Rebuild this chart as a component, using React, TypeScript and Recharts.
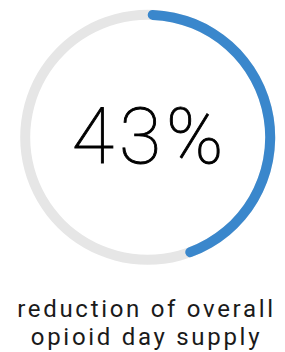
import React from "react";
import { PieChart, Pie, Cell, Label } from "recharts";

const trackData = [{ name: "track", value: 100 }];
const arcData = [
  { name: "reduction", value: 45 },
  { name: "rest", value: 55 },
];
const centerLabel = "43%";
const captionLines = ["reduction of overall", "opioid day supply"];

const BLUE = "#3a87cc";
const GREY = "#e6e6e6";
const CX = 147.7;
const CY = 137.3;

const CenterText = () => (
  <text
    x={CX + 2.5}
    y={CY + 26}
    textAnchor="middle"
    fontFamily="Roboto"
    fontWeight={100}
    fontSize={77}
    letterSpacing={5}
    fill="#000"
    stroke="#000"
    strokeWidth={0.9}
  >
    {centerLabel}
  </text>
);

export default function App() {
  return (
    <div style={{ position: "absolute", left: 0, top: 0, width: 285, height: 352, background: "#fff" }}>
      <PieChart width={285} height={280} margin={{ top: 0, right: 0, bottom: 0, left: 0 }}>
        <Pie
          data={trackData}
          dataKey="value"
          cx={CX}
          cy={CY}
          innerRadius={117.5}
          outerRadius={127.5}
          startAngle={90}
          endAngle={-270}
          stroke="none"
          fill={GREY}
          isAnimationActive={false}
        />
        <Pie
          data={arcData}
          dataKey="value"
          cx={CX}
          cy={CY}
          innerRadius={117.5}
          outerRadius={127.5}
          startAngle={90}
          endAngle={-270}
          cornerRadius={5}
          stroke="none"
          isAnimationActive={false}
        >
          <Cell fill={BLUE} />
          <Cell fill="none" />
          <Label content={<CenterText />} position="center" />
        </Pie>
      </PieChart>
      <div
        style={{
          position: "absolute",
          left: 4,
          top: 295.4,
          width: 285,
          textAlign: "center",
          fontFamily: "Roboto",
          fontSize: 24,
          lineHeight: "28px",
          letterSpacing: "2.7px",
          color: "#1a1a1a",
        }}
      >
        {captionLines.map((l) => (
          <div key={l}>{l}</div>
        ))}
      </div>
    </div>
  );
}
